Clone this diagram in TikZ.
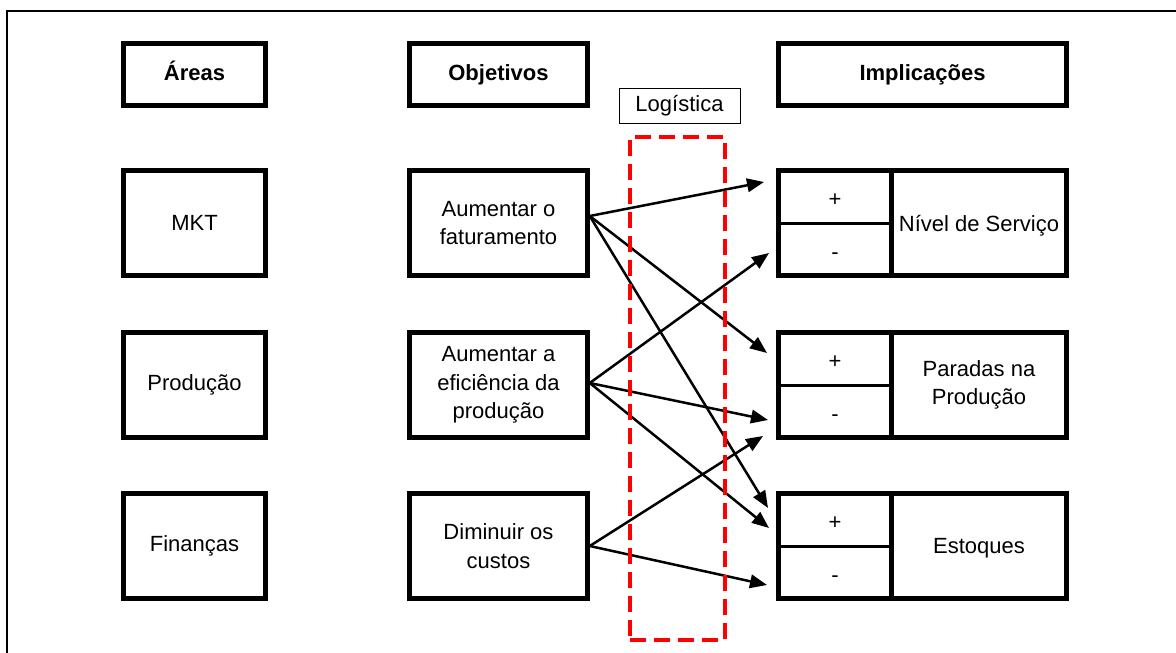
\documentclass[tikz,border=0pt]{standalone}
\usepackage{fontspec}
\setmainfont{Liberation Sans}
\usetikzlibrary{arrows.meta}
\begin{document}
\begin{tikzpicture}[x=1pt,y=-1pt,
  every node/.style={font=\fontsize{22}{28.5}\selectfont},
  box/.style={draw, line width=4.5pt, inner sep=0pt, align=center},
  head/.style={box, minimum height=62pt, text height=16pt, text depth=5pt, font=\fontsize{22}{28.5}\selectfont\bfseries},
  areabox/.style={box, minimum width=142pt, minimum height=105pt},
  objbox/.style={box, minimum width=178pt, minimum height=105pt},
  cell/.style={inner sep=0pt, outer sep=0pt, minimum width=113pt, minimum height=52.5pt, text height=20pt, text depth=0pt},
  effect/.style={inner sep=0pt, outer sep=0pt, minimum width=175pt, minimum height=105pt},
  effecttext/.style={inner sep=0pt, align=center},
  outline/.style={line width=4.5pt},
  split/.style={line width=3pt},
  link/.style={line width=2.5pt, -{Triangle[length=17pt,width=13.5pt]}},
  zone/.style={draw=red, line width=3.5pt, dash pattern=on 16pt off 8pt, inner sep=0pt, minimum width=95pt, minimum height=503pt}
]
\useasboundingbox (0,0) rectangle (1176,653);

% page frame
\draw[line width=2pt] (7,653) -- (7,11) -- (1176,11);

% column headers
\node[head, minimum width=142pt] (areas) at (194.5,74.5) {Áreas};
\node[head, minimum width=178pt] (objs) at (498.5,74.5) {Objetivos};
\node[head, minimum width=288pt] (impl) at (922.5,74.5) {Implicações};

% areas
\node[areabox] (mkt) at (194.5,223) {MKT};
\node[areabox] (prod) at (194.5,385) {Produção};
\node[areabox] (fin) at (194.5,546) {Finanças};

% objectives
\node[objbox] (obj1) at (498.5,223) {Aumentar o\\faturamento};
\node[objbox] (obj2) at (498.5,385) {Aumentar a\\eficiência da\\produção};
\node[objbox] (obj3) at (498.5,546) {Diminuir os\\custos};

% logistics label
\node[draw, line width=1pt, inner sep=0pt, minimum width=121pt, minimum height=35pt] (log) at (679.5,105.5) {Logística};

% implications: + / - cells and effect label
\foreach \r/\c/\s/\t in {1/223/-3pt/Nível de Serviço, 2/385/0pt/{Paradas na\\Produção}, 3/546/-2pt/Estoques}{
  \node[cell] (p\r) at (835,\c-26.25) {+};
  \node[cell] (m\r) at (835,\c+26.25) {-};
  \node[effect] (n\r) at (979,\c) {};
  \node[effecttext] (t\r) at ([yshift=\s]n\r.center) {\t};
  \draw[outline] (p\r.north west) rectangle (n\r.south east);
  \draw[outline] (n\r.north west) -- (n\r.south west);
  \draw[split] (p\r.south west) -- (p\r.south east);
}

% arrow end points
\coordinate (a1) at (764,182);
\coordinate (a2) at (767,353);
\coordinate (a3) at (768,508);
\coordinate (b1) at (769,253);
\coordinate (b2) at (768,420);
\coordinate (b3) at (769,528);
\coordinate (c1) at (763,436);
\coordinate (c2) at (767,585);

% connectors
\draw[link] ([yshift=7pt]obj1.east) -- (a1);
\draw[link] ([yshift=7pt]obj1.east) -- (a2);
\draw[link] ([yshift=7pt]obj1.east) -- (a3);
\draw[link] ([yshift=2pt]obj2.east) -- (b1);
\draw[link] ([yshift=2pt]obj2.east) -- (b2);
\draw[link] ([yshift=2pt]obj2.east) -- (b3);
\draw[link] (obj3.east) -- (c1);
\draw[link] (obj3.east) -- (c2);

% logistics zone
\node[zone] (zone) at (677.5,388.5) {};
\end{tikzpicture}
\end{document}
